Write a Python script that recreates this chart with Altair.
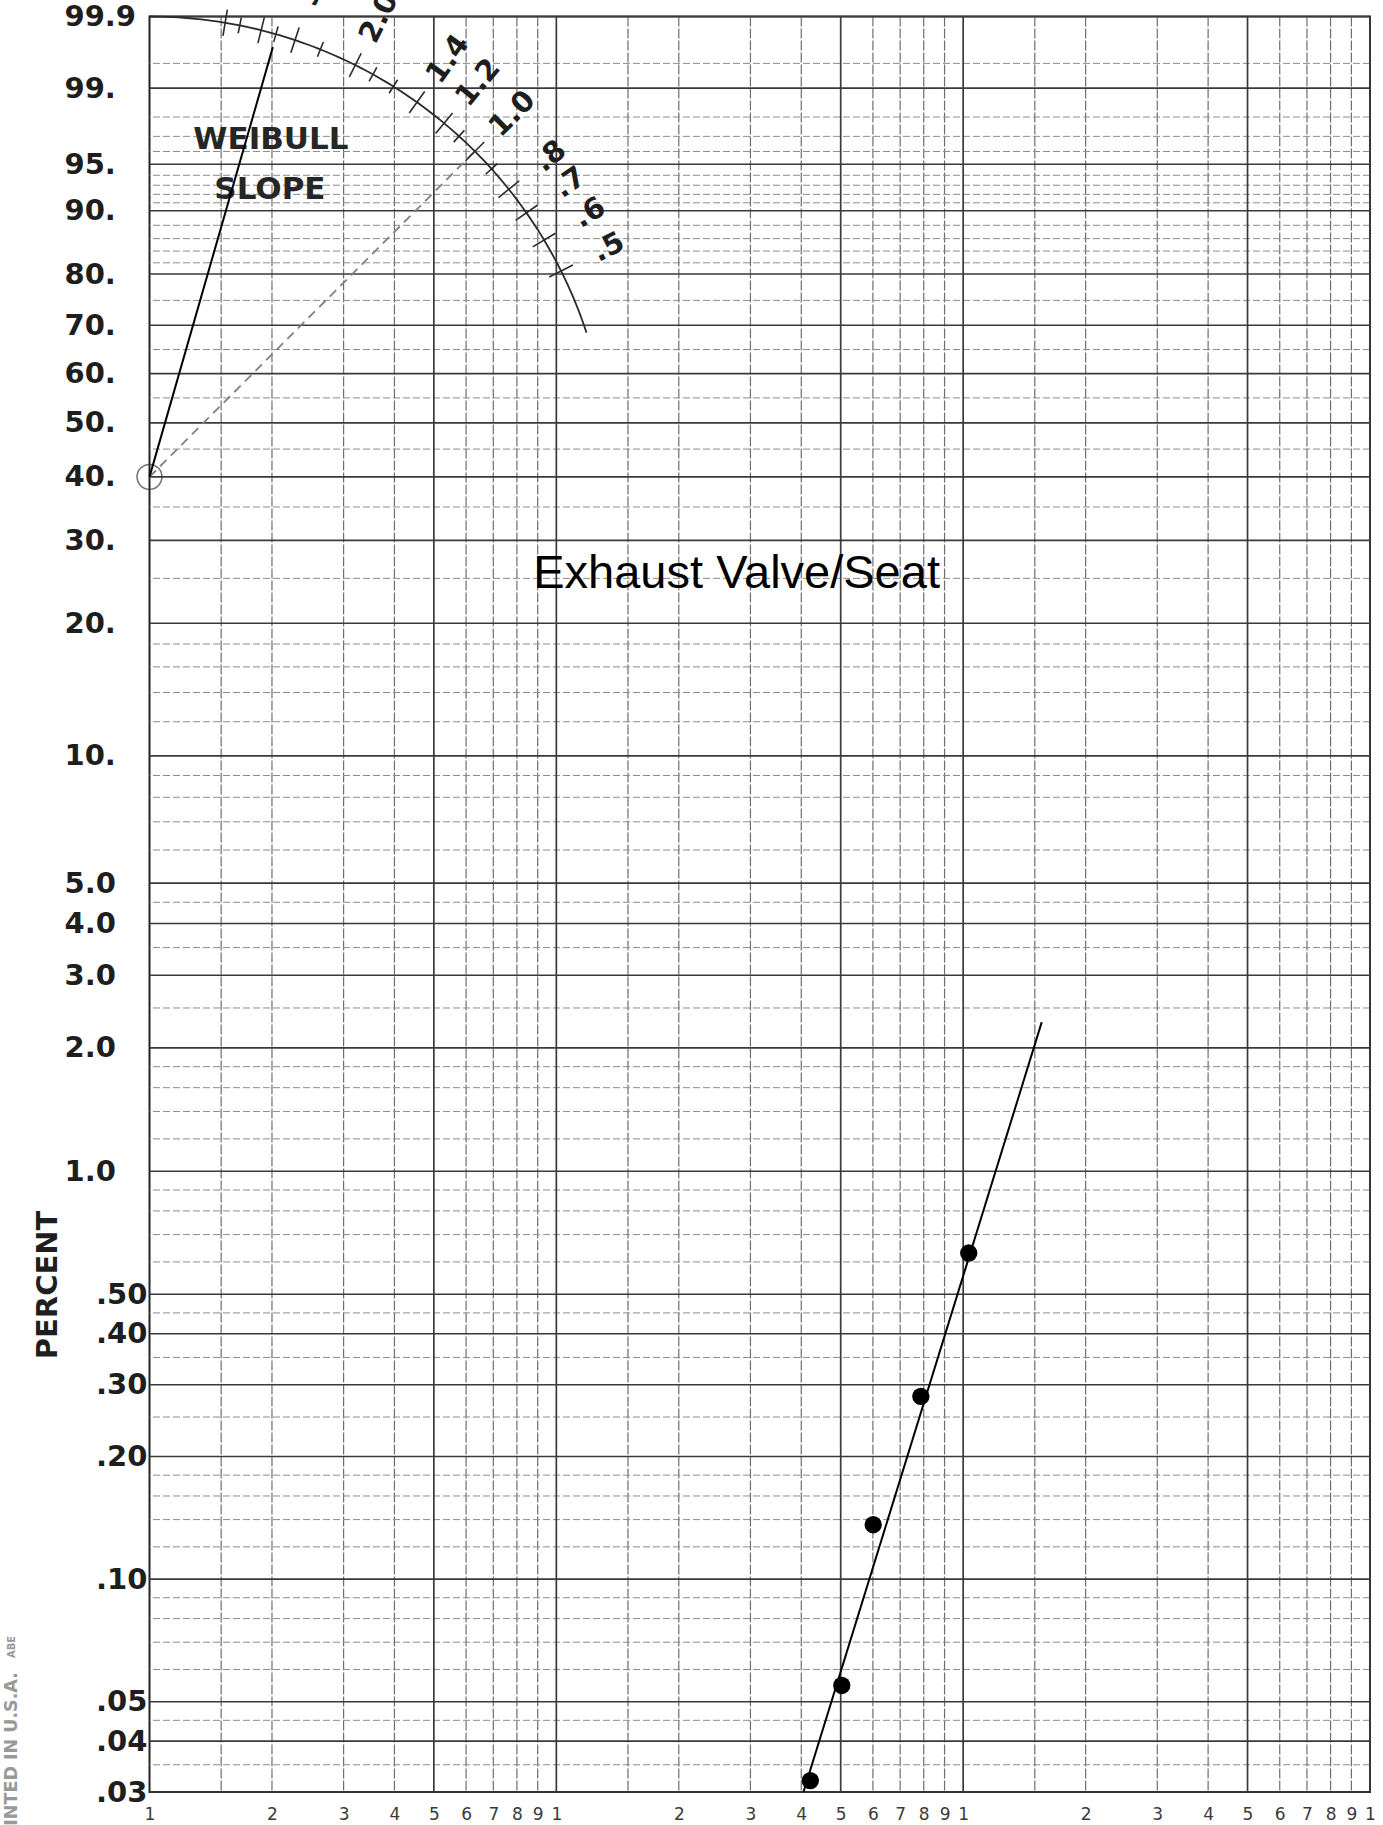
import math
import altair as alt
import pandas as pd

# ---------------------------------------------------------------- values --
# Percent-failed lines of the Weibull paper: labelled lines and the lighter
# lines between them.
pct_major = [99.9, 99, 95, 90, 80, 70, 60, 50, 40, 30, 20, 10,
             5, 4, 3, 2, 1, 0.5, 0.4, 0.3, 0.2, 0.1, 0.05, 0.04, 0.03]
pct_minor = [99.5, 98, 97, 96, 94, 93, 92, 91, 88, 86, 84, 82, 75, 65, 55,
             45, 35, 25, 18, 16, 14, 12, 9, 8, 7, 6, 4.5, 3.5, 2.5,
             1.8, 1.6, 1.4, 1.2, 0.9, 0.8, 0.7, 0.6, 0.45, 0.35, 0.25,
             0.18, 0.16, 0.14, 0.12, 0.09, 0.08, 0.07, 0.06, 0.045, 0.035]

# Life axis: three log cycles
cycle_starts = [1, 10, 100]
cycle_lines = [1.5, 2, 3, 4, 6, 7, 8, 9]
cycle_heavy = [5, 10]
tick_digits = [1, 2, 3, 4, 5, 6, 7, 8, 9]
life_max = 1000

# Plotted failures (life, percent failed)
life = [42.1, 50.3, 60.1, 78.7, 103.2]
pct_failed = [0.032, 0.0548, 0.136, 0.281, 0.631]

# Fitted line through the failures
fit_life = [40.5, 156.0]
fit_pct = [0.030, 2.31]

# Parallel line drawn from the estimation point to read the slope
slope_life = [1.0, 2.01]
slope_pct = [40.0, 99.7]

# Weibull slope dial
dial_origin_life = 1.0
dial_origin_pct = 40.0
dial_top_pct = 99.9
dial_major = [0.5, 0.6, 0.7, 0.8, 1.0, 1.2, 1.4, 2.0, 3.0, 4.0, 6.0]
dial_labels = [".5", ".6", ".7", ".8", "1.0", "1.2", "1.4", "2.0", "3.", "4", "6"]
dial_minor = [0.9, 1.1, 1.6, 1.8, 2.5, 3.5, 5.0]
dial_arc_end_slope = 0.33
dial_guide_slope = 1.0

# Text placed on the paper (life, percent)
title_text = "Exhaust Valve/Seat"
title_at = (27.74, 25.55)
dial_title = ["WEIBULL", "SLOPE"]
dial_title_life = [1.988, 1.977]
dial_title_pct = [96.78, 92.54]
printer_text = "INTED IN U.S.A."
printer_at = (0.46, 0.0248)
printer_mark = "ABE"
printer_mark_at = (0.46, 0.064)


# ------------------------------------------------------------ scales ----
def weibull(p):
    return math.log(-math.log(1 - p / 100.0))


V_EXPR = "log(-log(1 - datum.pct / 100))"
v_top = weibull(dial_top_pct)
v_bottom = weibull(min(pct_major))
v_origin = weibull(dial_origin_pct)
radius = v_top - v_origin          # dial radius in natural-log units

x_scale = alt.Scale(type="log", domain=[1, life_max], nice=False)
y_scale = alt.Scale(domain=[v_bottom, v_top], nice=False, zero=False)

P = "(100 * (1 - exp(-exp(datum.value))))"
y_label_expr = (
    f"{P} > 99.5 ? format({P}, '.1f') : "
    f"{P} >= 9.5 ? format({P}, '.0f') + '.' : "
    f"{P} >= 0.95 ? format({P}, '.1f') : "
    f"replace(format({P}, '.2f'), '0.', '.')"
)
below_one = f"datum.value < {weibull(0.75)}"

y_axis = alt.Axis(
    values=[weibull(p) for p in pct_major],
    labelExpr=y_label_expr, labels=True,
    grid=False, domain=False, ticks=False, tickSize=0,
    labelAlign="left", labelBaseline="middle",
    labelPadding={"condition": {"test": below_one, "value": 54}, "value": 85.5},
    labelFont="DejaVu Sans", labelFontWeight="bold", labelFontSize=29,
    labelColor="#1e1e1e", labelOverlap=False, labelFlush=False,
    title="PERCENT", titleFont="DejaVu Sans", titleFontWeight="bold",
    titleFontSize=29, titleColor="#1e1e1e", titleAngle=270,
    titleAlign="center", titleBaseline="middle", titleX=-102, titleY=1268,
)

x_axis = alt.Axis(
    values=[c * d for c in cycle_starts for d in tick_digits] + [life_max],
    labelExpr="substring(toString(datum.value), 0, 1)", labels=True,
    grid=False, domain=False, ticks=False, tickSize=0,
    labelAlign="center", labelBaseline="middle", labelPadding=22,
    labelFont="DejaVu Sans", labelFontSize=17, labelColor="#3a3a3a",
    labelOverlap=False, labelFlush=False, title=None,
)


def X(field, axis=None):
    if axis is None:
        return alt.X(field, scale=x_scale)
    return alt.X(field, scale=x_scale, axis=axis)


def Y(field, axis=None):
    if axis is None:
        return alt.Y(field, scale=y_scale)
    return alt.Y(field, scale=y_scale, axis=axis)


# ------------------------------------------------------------- grid -----
v_lines = pd.DataFrame({"life": [c * m for c in cycle_starts for m in cycle_lines]})
v_heavy = pd.DataFrame({"life": [c * m for c in cycle_starts for m in cycle_heavy]})

v_grid = alt.Chart(v_lines).mark_rule(
    color="#6e6e6e", strokeWidth=1.2, strokeDash=[10, 2]
).encode(x=X("life:Q", x_axis))

h_major = alt.Chart(pd.DataFrame({"pct": pct_major})).transform_calculate(
    v=V_EXPR
).mark_rule(color="#3a3a3a", strokeWidth=1.6).encode(y=Y("v:Q", y_axis))

h_minor = alt.Chart(pd.DataFrame({"pct": pct_minor})).transform_calculate(
    v=V_EXPR
).mark_rule(color="#8c8c8c", strokeWidth=1, strokeDash=[7, 3]).encode(y=Y("v:Q"))

v_grid_heavy = alt.Chart(v_heavy).mark_rule(
    color="#3a3a3a", strokeWidth=1.7
).encode(x=X("life:Q"))

# ------------------------------------------------------- slope dial -----
arc = alt.Chart(alt.sequence(0, 101, as_="i")).transform_calculate(
    th=f"atan({dial_arc_end_slope}) + (PI / 2 - atan({dial_arc_end_slope})) * datum.i / 100",
    life=f"{dial_origin_life} * exp({radius} * cos(datum.th))",
    v=f"{v_origin} + {radius} * sin(datum.th)",
).mark_line(color="#2a2a2a", strokeWidth=1.8).encode(
    x=X("life:Q"), y=Y("v:Q"), order="i:Q"
)

tick_df = pd.DataFrame({
    "slope": dial_major + dial_minor,
    "kind": ["major"] * len(dial_major) + ["minor"] * len(dial_minor),
})
dial_ticks = alt.Chart(tick_df).transform_calculate(
    th="atan(datum.slope)",
    half="datum.kind == 'major' ? 0.075 : 0.045",
    x1=f"{dial_origin_life} * exp(({radius} - datum.half) * cos(datum.th))",
    x2=f"{dial_origin_life} * exp(({radius} + datum.half) * cos(datum.th))",
    y1=f"{v_origin} + ({radius} - datum.half) * sin(datum.th)",
    y2=f"{v_origin} + ({radius} + datum.half) * sin(datum.th)",
).mark_rule(color="#2a2a2a", strokeWidth=1.6).encode(
    x=X("x1:Q"), x2="x2:Q", y=Y("y1:Q"), y2="y2:Q"
)

label_df = pd.DataFrame({"slope": dial_major, "label": dial_labels})
dial_text = alt.Chart(label_df).transform_calculate(
    th="atan(datum.slope)",
    r=f"{radius} + 0.3",
    life=f"{dial_origin_life} * exp(datum.r * cos(datum.th))",
    v=f"{v_origin} + datum.r * sin(datum.th)",
    ang="360 - datum.th * 180 / PI",
).mark_text(
    font="DejaVu Sans", fontWeight="bold", fontSize=29, color="#1e1e1e",
    align="center", baseline="middle",
).encode(
    x=X("life:Q"), y=Y("v:Q"), text="label:N",
    angle=alt.Angle("ang:Q", scale=None),
)

guide = alt.Chart(pd.DataFrame({"slope": [dial_guide_slope] * 2, "f": [0, 1]})).transform_calculate(
    th="atan(datum.slope)",
    life=f"{dial_origin_life} * exp(datum.f * {radius} * cos(datum.th))",
    v=f"{v_origin} + datum.f * {radius} * sin(datum.th)",
).mark_line(color="#808080", strokeWidth=1.8, strokeDash=[9, 6]).encode(
    x=X("life:Q"), y=Y("v:Q"), order="f:Q"
)

origin = alt.Chart(pd.DataFrame({"life": [dial_origin_life], "pct": [dial_origin_pct]})).transform_calculate(
    v=V_EXPR
).mark_point(shape="circle", filled=False, size=620, color="#333333", strokeWidth=1.5).encode(
    x=X("life:Q"), y=Y("v:Q")
)

dial_words = alt.Chart(pd.DataFrame({
    "life": dial_title_life, "pct": dial_title_pct, "t": dial_title
})).transform_calculate(v=V_EXPR).mark_text(
    font="DejaVu Sans", fontWeight="bold", fontSize=31, color="#262626",
    align="center", baseline="middle",
).encode(x=X("life:Q"), y=Y("v:Q"), text="t:N")

# ------------------------------------------------------------- data -----
slope_line = alt.Chart(pd.DataFrame({"life": slope_life, "pct": slope_pct})).transform_calculate(
    v=V_EXPR
).mark_line(color="black", strokeWidth=2).encode(x=X("life:Q"), y=Y("v:Q"))

fit_line = alt.Chart(pd.DataFrame({"life": fit_life, "pct": fit_pct})).transform_calculate(
    v=V_EXPR
).mark_line(color="black", strokeWidth=2).encode(x=X("life:Q"), y=Y("v:Q"))

points = alt.Chart(pd.DataFrame({"life": life, "pct": pct_failed})).transform_calculate(
    v=V_EXPR
).mark_circle(size=300, color="black", opacity=1).encode(x=X("life:Q"), y=Y("v:Q"))

title = alt.Chart(pd.DataFrame({"life": [title_at[0]], "pct": [title_at[1]], "t": [title_text]})).transform_calculate(
    v=V_EXPR
).mark_text(font="Liberation Sans", fontSize=47, color="black", align="center", baseline="middle").encode(
    x=X("life:Q"), y=Y("v:Q"), text="t:N"
)

printer = alt.Chart(pd.DataFrame({
    "life": [printer_at[0], printer_mark_at[0]],
    "pct": [printer_at[1], printer_mark_at[1]],
    "t": [printer_text, printer_mark],
    "s": [17.5, 10],
})).transform_calculate(v=V_EXPR).mark_text(
    font="DejaVu Sans", color="#999999", angle=270, align="left", baseline="middle",
    fontWeight="bold",
).encode(x=X("life:Q"), y=Y("v:Q"), text="t:N", size=alt.Size("s:Q", scale=None))

chart = alt.layer(
    v_grid, h_major, h_minor, v_grid_heavy,
    guide, arc, dial_ticks, dial_text, dial_words, origin,
    slope_line, fit_line, points, title, printer,
).properties(
    width=1220.5, height=1775.5,
    padding={"left": 149.5, "top": 16.5, "right": 13, "bottom": 33},
    autosize=alt.AutoSizeParams(type="none"),
    background="white",
).configure_axis(
    grid=False, domain=False, ticks=False,
).configure_view(stroke="#222222", strokeWidth=2)

chart.save("out.html", embed_options={"renderer": "svg", "actions": False})
